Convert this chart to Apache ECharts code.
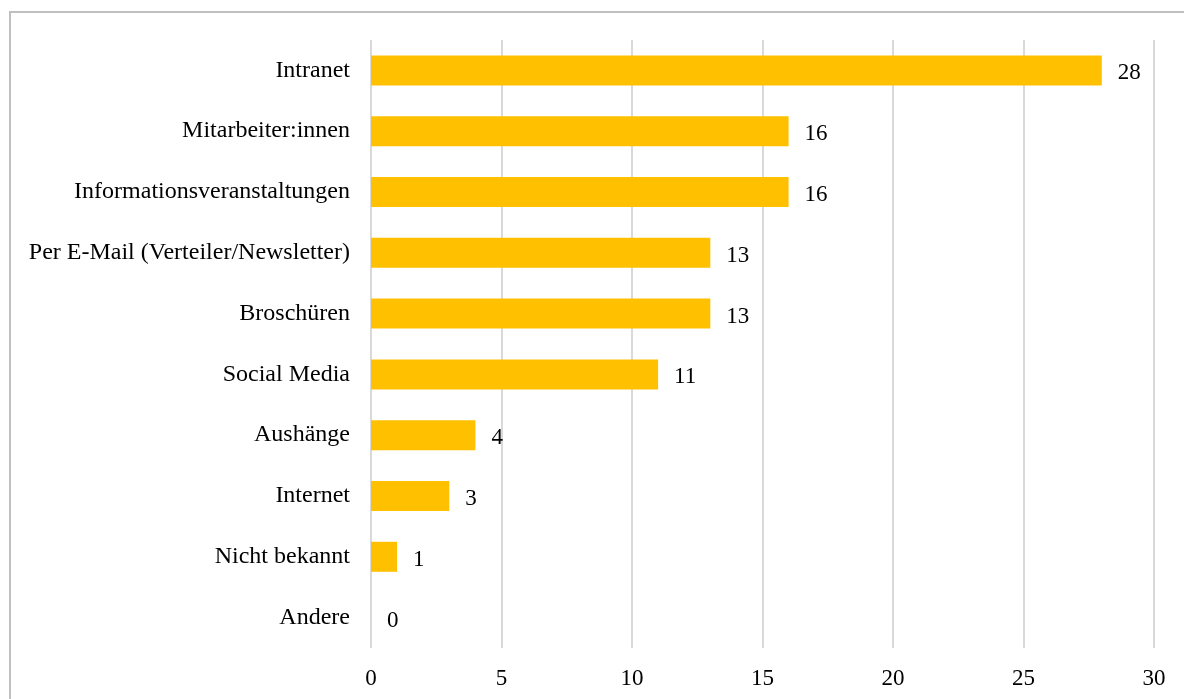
<!DOCTYPE html>
<html><head><meta charset="utf-8">
<script src="https://cdn.jsdelivr.net/npm/echarts@6/dist/echarts.min.js"></script>
<style>
html,body{margin:0;padding:0;background:#fff;overflow:hidden}
#frame{position:absolute;left:9px;top:11px;width:1200px;height:720px;border:2px solid #bfbfbf;box-sizing:border-box}
#c{position:absolute;left:0;top:0;width:1184px;height:699px}
</style></head>
<body>
<div id="frame"></div>
<div id="c"></div>
<script>
const categories = ["Intranet","Mitarbeiter:innen","Informationsveranstaltungen","Per E-Mail (Verteiler/Newsletter)","Broschüren","Social Media","Aushänge","Internet","Nicht bekannt","Andere"];
const values = [28,16,16,13,13,11,4,3,1,0];
const xTicks = [0,5,10,15,20,25,30];

const chart = echarts.init(document.getElementById('c'));
const font = '"Liberation Serif","Times New Roman",serif';
chart.setOption({
  animation:false,
  grid:{left:371,right:30,top:40,bottom:51,containLabel:false},
  xAxis:{type:'value',min:xTicks[0],max:xTicks[xTicks.length-1],interval:5,
    axisLine:{show:false},axisTick:{show:false},
    splitLine:{lineStyle:{color:'#d9d9d9',width:2}},
    axisLabel:{color:'#000',fontFamily:font,fontSize:23,margin:19}},
  yAxis:{type:'category',data:categories,inverse:true,
    axisLine:{show:false},axisTick:{show:false},
    axisLabel:{color:'#000',fontFamily:font,fontSize:24,margin:21,padding:[6,0,0,0]}},
  series:[{type:'bar',data:values,barWidth:30,
    itemStyle:{color:'#ffc000'},
    label:{show:true,position:'right',distance:16,offset:[0,3],color:'#000',fontFamily:font,fontSize:23}}]
});
</script>
</body></html>
